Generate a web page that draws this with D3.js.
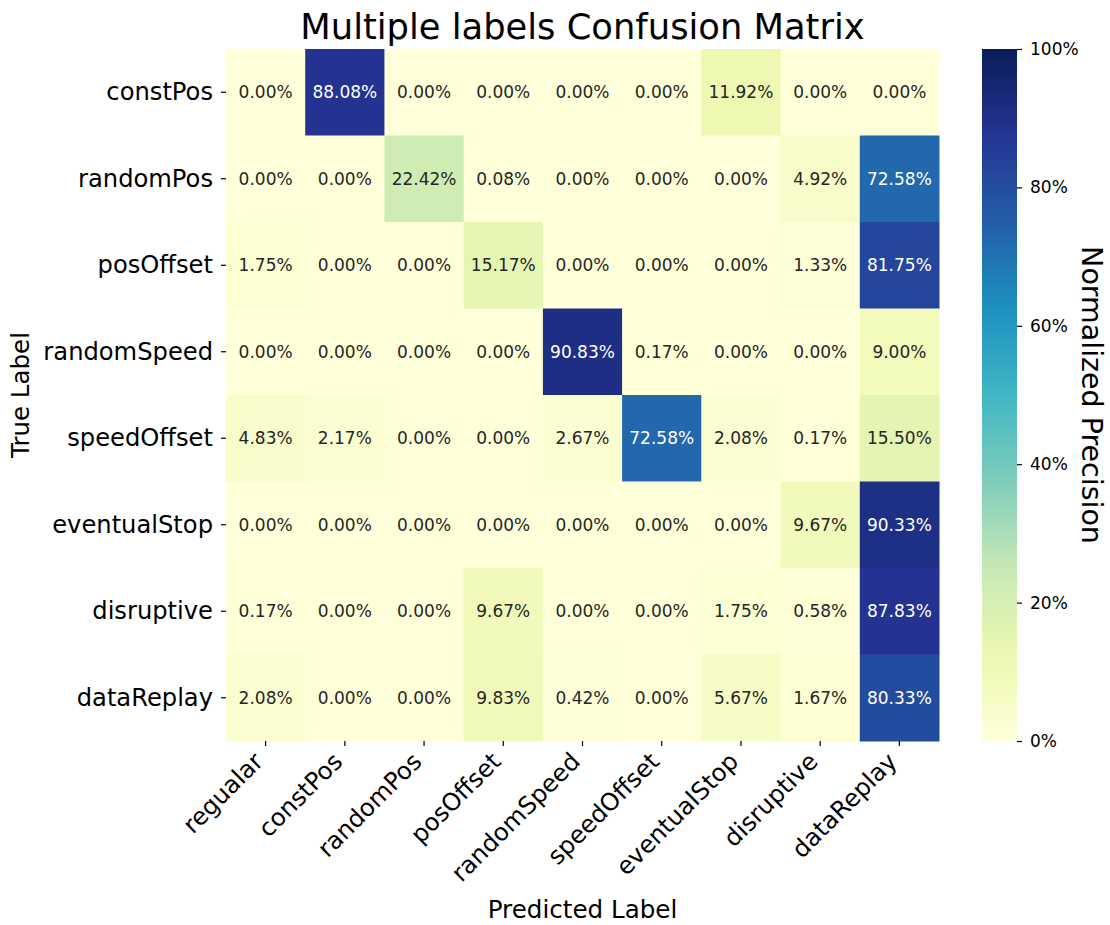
<!DOCTYPE html>
<html>
<head>
<meta charset="utf-8">
<script src="https://cdn.jsdelivr.net/npm/d3@7"></script>
<style>
  body { margin: 0; background: #fff; }
  svg { display: block; font-family: 'DejaVu Sans', sans-serif; }
</style>
</head>
<body>
<svg id="chart" width="1110" height="925"></svg>
<script>
// predicted classes (columns) and true classes (rows)
const predLabels = ['regualar', 'constPos', 'randomPos', 'posOffset', 'randomSpeed',
  'speedOffset', 'eventualStop', 'disruptive', 'dataReplay'];
const trueLabels = ['constPos', 'randomPos', 'posOffset', 'randomSpeed', 'speedOffset',
  'eventualStop', 'disruptive', 'dataReplay'];

// normalized precision in percent, one row per true label
const constPos = [0.00, 88.08, 0.00, 0.00, 0.00, 0.00, 11.92, 0.00, 0.00];
const randomPos = [0.00, 0.00, 22.42, 0.08, 0.00, 0.00, 0.00, 4.92, 72.58];
const posOffset = [1.75, 0.00, 0.00, 15.17, 0.00, 0.00, 0.00, 1.33, 81.75];
const randomSpeed = [0.00, 0.00, 0.00, 0.00, 90.83, 0.17, 0.00, 0.00, 9.00];
const speedOffset = [4.83, 2.17, 0.00, 0.00, 2.67, 72.58, 2.08, 0.17, 15.50];
const eventualStop = [0.00, 0.00, 0.00, 0.00, 0.00, 0.00, 0.00, 9.67, 90.33];
const disruptive = [0.17, 0.00, 0.00, 9.67, 0.00, 0.00, 1.75, 0.58, 87.83];
const dataReplay = [2.08, 0.00, 0.00, 9.83, 0.42, 0.00, 5.67, 1.67, 80.33];

const colorbarTicks = [0, 20, 40, 60, 80, 100];

const rows = [constPos, randomPos, posOffset, randomSpeed, speedOffset,
  eventualStop, disruptive, dataReplay];

const cells = [];
rows.forEach((r, i) => r.forEach((v, j) => {
  cells.push({ row: trueLabels[i], col: predLabels[j], value: v });
}));

// plot area
const plotLeft = 226, plotRight = 939, plotTop = 49, plotBottom = 741;
const tickFont = 24.2;

const svg = d3.select('#chart');

const x = d3.scaleBand().domain(predLabels).range([plotLeft, plotRight]).padding(0);
const y = d3.scaleBand().domain(trueLabels).range([plotTop, plotBottom]).padding(0);

// matplotlib YlGnBu = linear interpolation through the 9 brewer colours
const ramp = d3.schemeYlGnBu[9];
const color = d3.scaleLinear()
  .domain(d3.range(9).map((i) => (i * 100) / 8))
  .range(ramp)
  .interpolate(d3.interpolateRgb)
  .clamp(true);

// seaborn style annotation colour
const textColor = (v) => {
  const c = d3.rgb(color(v));
  const lin = (u) => {
    u /= 255;
    return u <= 0.03928 ? u / 12.92 : Math.pow((u + 0.055) / 1.055, 2.4);
  };
  const lum = 0.2126 * lin(c.r) + 0.7152 * lin(c.g) + 0.0722 * lin(c.b);
  return lum > 0.408 ? '#262626' : '#ffffff';
};

// cells
svg.append('g')
  .selectAll('rect')
  .data(cells)
  .join('rect')
  .attr('x', (d) => x(d.col))
  .attr('y', (d) => y(d.row))
  .attr('width', x.bandwidth() + 0.5)
  .attr('height', y.bandwidth() + 0.5)
  .attr('fill', (d) => color(d.value));

svg.append('g')
  .attr('font-size', 17)
  .attr('text-anchor', 'middle')
  .selectAll('text')
  .data(cells)
  .join('text')
  .attr('x', (d) => x(d.col) + x.bandwidth() / 2)
  .attr('y', (d) => y(d.row) + y.bandwidth() / 2)
  .attr('dy', '0.36em')
  .attr('fill', (d) => textColor(d.value))
  .text((d) => d.value.toFixed(2) + '%');

// x axis
const xAxis = svg.append('g')
  .attr('transform', `translate(0,${plotBottom})`)
  .call(d3.axisBottom(x).tickSize(5).tickPadding(4));
xAxis.select('.domain').remove();
xAxis.selectAll('.tick line').attr('stroke', '#000').attr('stroke-width', 1.2);
xAxis.selectAll('.tick text')
  .attr('font-size', tickFont)
  .attr('font-family', 'DejaVu Sans')
  .attr('fill', '#000')
  .attr('text-anchor', 'end')
  .attr('y', 0)
  .attr('dy', 0)
  .attr('transform', 'translate(-1,22) rotate(-45)');

// y axis
const yAxis = svg.append('g')
  .attr('transform', `translate(${plotLeft},0)`)
  .call(d3.axisLeft(y).tickSize(5).tickPadding(8));
yAxis.select('.domain').remove();
yAxis.selectAll('.tick line').attr('stroke', '#000').attr('stroke-width', 1.2);
yAxis.selectAll('.tick text')
  .attr('font-size', tickFont)
  .attr('font-family', 'DejaVu Sans')
  .attr('fill', '#000');

// title and axis labels
svg.append('text')
  .attr('x', (plotLeft + plotRight) / 2)
  .attr('y', 39)
  .attr('text-anchor', 'middle')
  .attr('font-size', 35.3)
  .text('Multiple labels Confusion Matrix');

svg.append('text')
  .attr('x', (plotLeft + plotRight) / 2)
  .attr('y', 918)
  .attr('text-anchor', 'middle')
  .attr('font-size', 24.6)
  .text('Predicted Label');

svg.append('text')
  .attr('transform', `translate(29,${(plotTop + plotBottom) / 2}) rotate(-90)`)
  .attr('text-anchor', 'middle')
  .attr('font-size', 24.5)
  .text('True Label');

// colorbar
const cbLeft = 982, cbWidth = 35;
const cbScale = d3.scaleLinear().domain([0, 100]).range([plotBottom, plotTop]);

const grad = svg.append('defs')
  .append('linearGradient')
  .attr('id', 'cbGrad')
  .attr('x1', 0).attr('y1', 1).attr('x2', 0).attr('y2', 0);
grad.selectAll('stop')
  .data(d3.range(0, 101, 2))
  .join('stop')
  .attr('offset', (d) => d / 100)
  .attr('stop-color', (d) => color(d));

svg.append('rect')
  .attr('x', cbLeft)
  .attr('y', plotTop)
  .attr('width', cbWidth)
  .attr('height', plotBottom - plotTop)
  .attr('fill', 'url(#cbGrad)');

const cbAxis = svg.append('g')
  .attr('transform', `translate(${cbLeft + cbWidth},0)`)
  .call(d3.axisRight(cbScale).tickValues(colorbarTicks).tickSize(5).tickPadding(8)
    .tickFormat((d) => d + '%'));
cbAxis.select('.domain').remove();
cbAxis.selectAll('.tick line').attr('stroke', '#000').attr('stroke-width', 1.2);
cbAxis.selectAll('.tick text')
  .attr('font-size', 17)
  .attr('font-family', 'DejaVu Sans')
  .attr('fill', '#000');

svg.append('text')
  .attr('transform', `translate(1082,${(plotTop + plotBottom) / 2}) rotate(90)`)
  .attr('text-anchor', 'middle')
  .attr('font-size', 28.5)
  .text('Normalized Precision');
</script>
</body>
</html>
